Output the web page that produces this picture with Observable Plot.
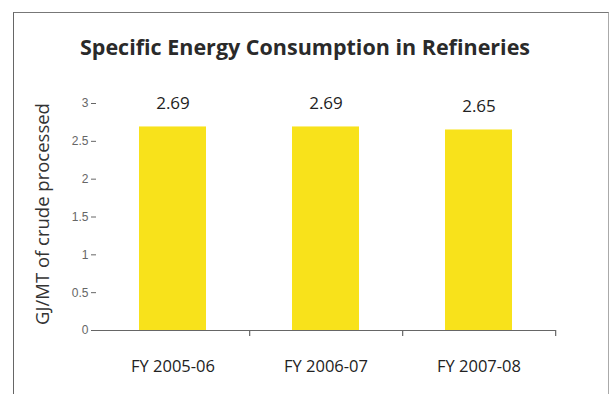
<!DOCTYPE html>
<html>
<head>
<meta charset="utf-8">
<script src="https://cdn.jsdelivr.net/npm/d3@7"></script>
<script src="https://cdn.jsdelivr.net/npm/@observablehq/plot@0.6"></script>
<style>
  html, body { margin: 0; padding: 0; background: #fff; }
  #wrap { position: relative; width: 610px; height: 394px; overflow: hidden; }
  #box {
    position: absolute; left: 13px; top: 12px; width: 596px; height: 400px;
    border-left: 1.5px solid #666; border-top: 1.5px solid #777; border-right: 1.5px solid #aaa;
    box-sizing: border-box;
  }
  #title {
    position: absolute; left: 0; top: 32px; width: 610px; text-align: center;
    font-family: "Open Sans", sans-serif; font-weight: bold; font-size: 21.5px; color: #2a2a2a;
    font-variant-ligatures: none;
  }
  #ylabel {
    position: absolute; left: 42px; top: 214px; width: 300px; margin-left: -150px;
    text-align: center; line-height: 24px; margin-top: -12px;
    transform: rotate(-90deg);
    font-family: "Open Sans", sans-serif; font-size: 18.5px; color: #333;
  }
  #chart { position: absolute; left: 0; top: 0; }
</style>
</head>
<body>
<div id="wrap">
  <div id="box"></div>
  <div id="title">Specific Energy Consumption in Refineries</div>
  <div id="ylabel">GJ/MT of crude processed</div>
  <div id="chart"></div>
</div>
<script>
// Specific energy consumption, GJ per tonne of crude processed
const years = ["FY 2005-06", "FY 2006-07", "FY 2007-08"];
const consumption = [2.69, 2.69, 2.65];
const yTicks = [0, 0.5, 1, 1.5, 2, 2.5, 3];

const rows = years.map((year, i) => ({year, value: consumption[i]}));

const W = 610, H = 394;
const M = {left: 96, right: 54, top: 103, bottom: 64};
const halfStep = (W - M.left - M.right) / years.length / 2;
const bodyFont = "'Open Sans', sans-serif";

const chart = Plot.plot({
  width: W,
  height: H,
  marginLeft: M.left,
  marginRight: M.right,
  marginTop: M.top,
  marginBottom: M.bottom,
  style: {background: "transparent", overflow: "visible"},
  x: {type: "band", domain: years, paddingInner: 0.56, paddingOuter: 0.28, label: null},
  y: {type: "linear", domain: [0, 3], label: null},
  marks: [
    Plot.barY(rows, {x: "year", y: "value", fill: "#f8e21b"}),
    // axis lines
    Plot.ruleY([0], {stroke: "#666", strokeWidth: 1.2}),
    Plot.ruleX([0], {frameAnchor: "left", y1: 0, y2: 3, stroke: "#666", strokeWidth: 1.2,
      render: (index, scales, values, dims, ctx, next) => {
        const g = next(index, scales, values, dims, ctx);
        d3.select(g).selectAll("line").attr("x1", dims.marginLeft).attr("x2", dims.marginLeft);
        return g;
      }}),
    // x tick marks at category boundaries
    Plot.ruleX(years, {x: d => d, y1: 0, y2: 0, dx: halfStep, stroke: "#666", strokeWidth: 1.2,
      render: (index, scales, values, dims, ctx, next) => {
        const g = next(index, scales, values, dims, ctx);
        d3.select(g).selectAll("line").attr("y1", scales.y(0)).attr("y2", scales.y(0) + 6);
        return g;
      }}),
    Plot.axisY({ticks: yTicks, tickFormat: d => String(d), tickSize: 5, tickPadding: 3,
      stroke: "#666", fill: "#666", fontSize: 12,
      fontFamily: "'Liberation Sans', Arial, sans-serif", label: null}),
    Plot.axisX({tickSize: 0, tickPadding: 30, fontSize: 16.5, fill: "#222",
      fontFamily: bodyFont, label: null}),
    Plot.text(rows, {x: "year", y: "value", text: d => d.value.toFixed(2), dy: -23,
      fontSize: 17, fill: "#222", fontFamily: bodyFont})
  ]
});

document.getElementById("chart").append(chart);
</script>
</body>
</html>
